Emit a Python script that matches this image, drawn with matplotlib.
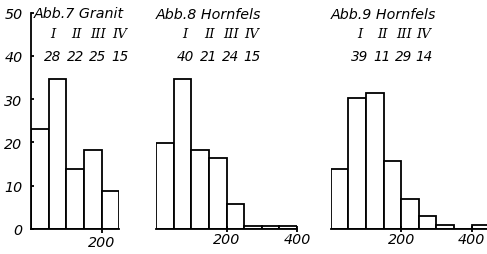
import matplotlib
matplotlib.use("Agg")
import matplotlib.pyplot as plt
import numpy as np

# ---- data ----
bin_width = 50
granit7 = [23.1, 34.7, 13.8, 18.3, 8.7]
hornfels8 = [19.8, 34.7, 18.2, 16.3, 5.8, 0.6, 0.6, 0.6]
hornfels9 = [13.8, 30.3, 31.4, 15.7, 7.0, 3.0, 0.9, 0.0, 0.9]
titles = ["Abb.7 Granit", "Abb.8 Hornfels", "Abb.9 Hornfels"]
roman = ["I", "II", "III", "IV"]
counts7 = ["28", "22", "25", "15"]
counts8 = ["40", "21", "24", "15"]
counts9 = ["39", "11", "29", "14"]
yticks = [0, 10, 20, 30, 40, 50]

W, H = 487, 255
fig = plt.figure(figsize=(W / 100, H / 100), dpi=100)
fig.patch.set_facecolor("white")

pxu = 0.3525          # px per x unit
pyu = 4.33            # px per y unit
base = 230            # baseline px from top
lw = 1.3
FS = 10.3
font = dict(family="DejaVu Sans", style="italic")


def make_ax(left_px, xmax):
    width_px = xmax * pxu
    height_px = 50 * pyu
    ax = fig.add_axes([left_px / W, (H - base) / H, width_px / W, height_px / H])
    ax.set_xlim(0, xmax)
    ax.set_ylim(0, 50)
    ax.patch.set_alpha(0)
    for s in ["top", "right", "left"]:
        ax.spines[s].set_visible(False)
    ax.spines["bottom"].set_linewidth(lw)
    return ax


def draw_bars(ax, vals):
    edges = np.arange(len(vals)) * bin_width
    ax.bar(edges, vals, width=bin_width, align="edge", facecolor="white",
           edgecolor="black", linewidth=lw, clip_on=True)


def px_text(x, y, s, size=FS, ha="center", fam=None, st="italic"):
    fig.text(x / W, 1 - y / H, s, ha=ha, va="center", fontsize=size,
             family=fam or "DejaVu Sans", style=st)


# panel 1
ax1 = make_ax(31, 250)
draw_bars(ax1, granit7)
ax1.spines["left"].set_visible(True)
ax1.spines["left"].set_linewidth(lw)
ax1.set_yticks(yticks)
ax1.set_yticklabels([str(t) for t in yticks], fontsize=FS, **font)
ax1.tick_params(axis="y", direction="in", length=2.5, width=lw, pad=6)
ax1.set_xticks([200])
ax1.set_xticklabels(["200"], fontsize=FS, **font)
ax1.tick_params(axis="x", direction="out", length=3, width=lw, pad=1)

# panel 2
ax2 = make_ax(156, 400)
draw_bars(ax2, hornfels8)
ax2.set_yticks([])
ax2.set_xticks([200, 400])
ax2.set_xticklabels(["200", "400"], fontsize=FS, **font)
ax2.tick_params(axis="x", direction="inout", length=5, width=lw, pad=0)

# panel 3
ax3 = make_ax(330.7, 444)
draw_bars(ax3, hornfels9)
ax3.set_yticks([])
ax3.set_xticks([200, 400])
ax3.set_xticklabels(["200", "400"], fontsize=FS, **font)
ax3.tick_params(axis="x", direction="inout", length=5, width=lw, pad=0)

# titles and tables
px_text(34, 14, titles[0], ha="left")
px_text(156, 15, titles[1], ha="left")
px_text(331, 15, titles[2], ha="left")

rx = [[53, 76, 98, 120], [185, 209, 231, 252], [360, 382, 404, 424]]
cnts = [counts7, counts8, counts9]
for xs, cs in zip(rx, cnts):
    for x, r, c in zip(xs, roman, cs):
        px_text(x, 35, r, size=9.5, fam="DejaVu Serif")
        px_text(x, 57, c, size=9.8)

fig.savefig("out.png", dpi=100, facecolor="white")
